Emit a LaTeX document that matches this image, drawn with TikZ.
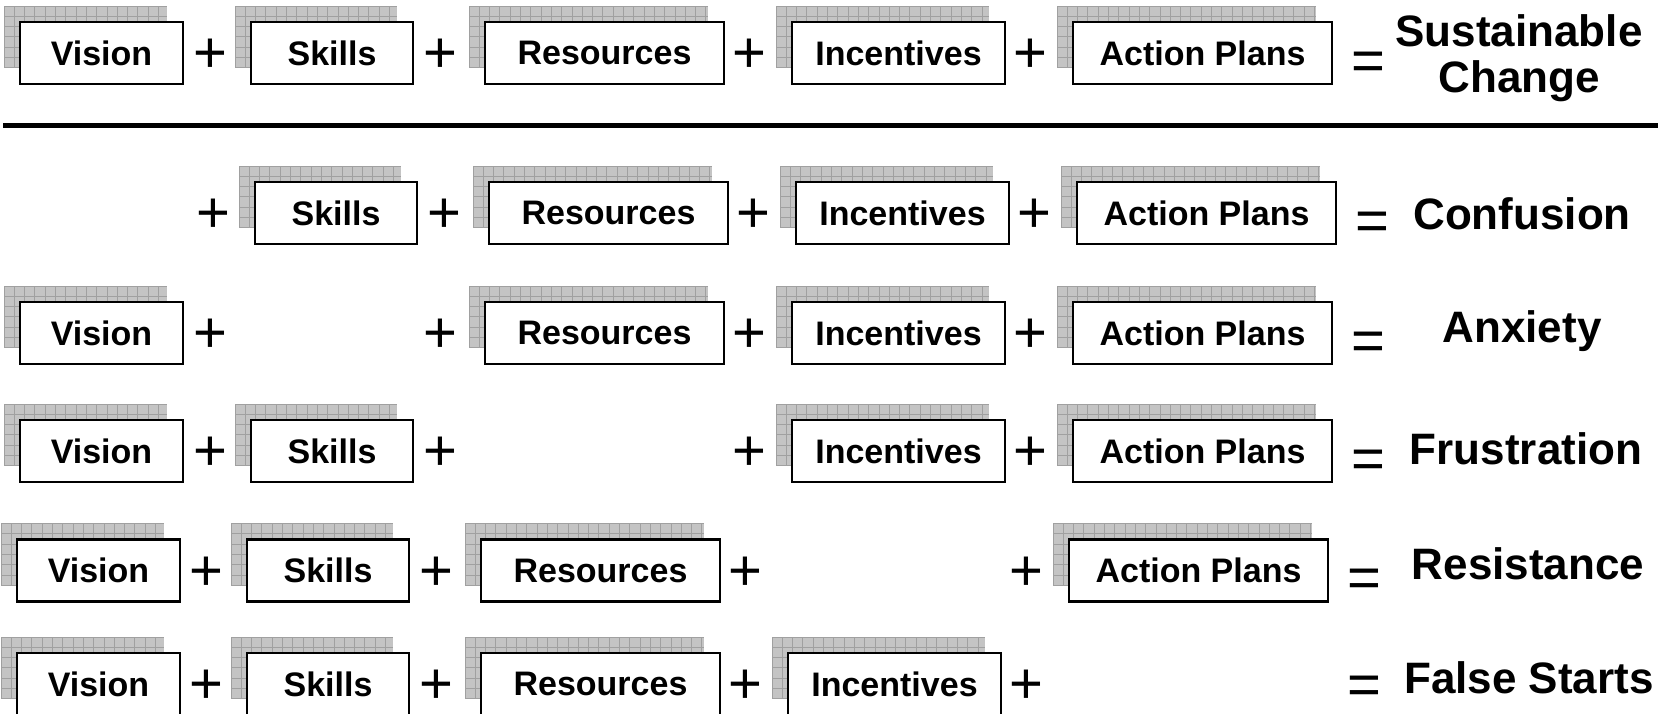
\documentclass[tikz,border=0pt]{standalone}
\usepackage{fontspec}
\setmainfont{Liberation Sans}
\definecolor{shadefill}{RGB}{196,196,196}
\definecolor{shadeline}{RGB}{160,160,160}
\tikzset{
  box/.style={draw=black, line width=1.3pt, fill=white, minimum height=31pt,
    inner sep=0pt, font=\fontsize{17}{20}\selectfont\bfseries},
  op/.style={font=\fontsize{29}{30}\selectfont, inner sep=0pt},
  res/.style={font=\fontsize{22}{23}\selectfont\bfseries, inner sep=0pt, anchor=base},
  rule/.style={line width=2.8pt, black},
}
% #1 name, #2 cx, #3 cy, #4 width (px), #5 text
\newcommand\chgbox[5]{%
  \fill[shadefill] ({#2-#4/2-16},{#3-47}) rectangle ++(#4,62);
  \begin{scope}
    \clip ({#2-#4/2-16},{#3-47}) rectangle ++(#4,62);
    \foreach \k in {0,...,26}
      \draw[shadeline, line width=0.5pt] ({#2-#4/2-16+\k*10.3},{#3-47}) -- ++(0,62);
    \foreach \k in {0,...,6}
      \draw[shadeline, line width=0.5pt] ({#2-#4/2-16},{#3-47+\k*10.3}) -- ++(#4,0);
  \end{scope}
  \node[box, minimum width=#4*0.5pt] (#1) at (#2,#3) {#5};
}
\begin{document}
\begin{tikzpicture}[x=0.5pt, y=-0.5pt]
\useasboundingbox (0,0) rectangle (1663,713);
\clip (0,0) rectangle (1663,713);

% ---------- Row 1 ----------
\chgbox{v1}{101.5}{53}{163}{Vision}
\chgbox{s1}{332}{53}{162}{Skills}
\chgbox{r1}{604.5}{53}{239}{Resources}
\chgbox{i1}{898.5}{53}{213}{Incentives}
\chgbox{a1}{1202.5}{53}{259}{Action Plans}
\node[op] (p1a) at (210,56) {+};
\node[op] (p1b) at (440,56) {+};
\node[op] (p1c) at (749,56) {+};
\node[op] (p1d) at (1030,56) {+};
\node[op] (e1) at (1368,66) {=};
\node[res, anchor=center, align=center] (t1) at (1519,58) {Sustainable\\Change};

\coordinate (ruleL) at (3,125.5);
\coordinate (ruleR) at (1658,125.5);
\draw[rule] (ruleL) -- (ruleR);

% ---------- Row 2 : Confusion ----------
\chgbox{s2}{336}{213}{162}{Skills}
\chgbox{r2}{608.5}{213}{239}{Resources}
\chgbox{i2}{902.5}{213}{213}{Incentives}
\chgbox{a2}{1206.5}{213}{259}{Action Plans}
\node[op] (p2a) at (213,216) {+};
\node[op] (p2b) at (444,216) {+};
\node[op] (p2c) at (753,216) {+};
\node[op] (p2d) at (1034,216) {+};
\node[op] (e2) at (1372,226) {=};
\node[res] (t2) at (1522,229) {Confusion};

% ---------- Row 3 : Anxiety ----------
\chgbox{v3}{101.5}{333}{163}{Vision}
\chgbox{r3}{604.5}{333}{239}{Resources}
\chgbox{i3}{898.5}{333}{213}{Incentives}
\chgbox{a3}{1202.5}{333}{259}{Action Plans}
\node[op] (p3a) at (210,336) {+};
\node[op] (p3b) at (440,336) {+};
\node[op] (p3c) at (749,336) {+};
\node[op] (p3d) at (1030,336) {+};
\node[op] (e3) at (1368,346) {=};
\node[res] (t3) at (1522,342) {Anxiety};

% ---------- Row 4 : Frustration ----------
\chgbox{v4}{101.5}{451}{163}{Vision}
\chgbox{s4}{332}{451}{162}{Skills}
\chgbox{i4}{898.5}{451}{213}{Incentives}
\chgbox{a4}{1202.5}{451}{259}{Action Plans}
\node[op] (p4a) at (210,454) {+};
\node[op] (p4b) at (440,454) {+};
\node[op] (p4c) at (749,454) {+};
\node[op] (p4d) at (1030,454) {+};
\node[op] (e4) at (1368,464) {=};
\node[res] (t4) at (1526,464) {Frustration};

% ---------- Row 5 : Resistance ----------
\chgbox{v5}{98.5}{570.5}{163}{Vision}
\chgbox{s5}{328}{570.5}{162}{Skills}
\chgbox{r5}{600.5}{570.5}{239}{Resources}
\chgbox{a5}{1198.5}{570.5}{259}{Action Plans}
\node[op] (p5a) at (206,573.5) {+};
\node[op] (p5b) at (436,573.5) {+};
\node[op] (p5c) at (745,573.5) {+};
\node[op] (p5d) at (1026,573.5) {+};
\node[op] (e5) at (1364,583.5) {=};
\node[res] (t5) at (1528,579) {Resistance};

% ---------- Row 6 : False Starts ----------
\chgbox{v6}{98.5}{684}{163}{Vision}
\chgbox{s6}{328}{684}{162}{Skills}
\chgbox{r6}{600.5}{684}{239}{Resources}
\chgbox{i6}{894.5}{684}{213}{Incentives}
\node[op] (p6a) at (206,687) {+};
\node[op] (p6b) at (436,687) {+};
\node[op] (p6c) at (745,687) {+};
\node[op] (p6d) at (1026,687) {+};
\node[op] (e6) at (1364,690) {=};
\node[res] (t6) at (1529,693) {False Starts};
\end{tikzpicture}
\end{document}
